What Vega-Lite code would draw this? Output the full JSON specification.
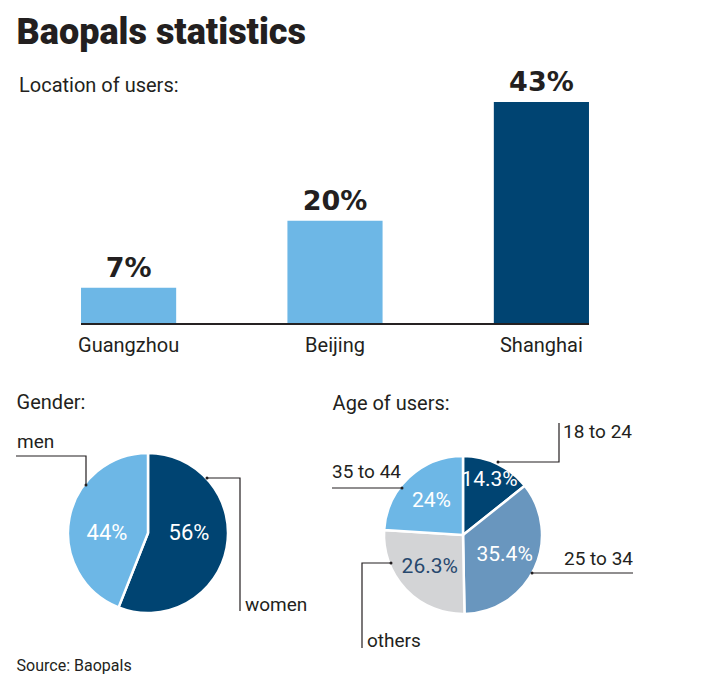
{
  "$schema": "https://vega.github.io/schema/vega-lite/v6.json",
  "background": "white",
  "padding": {"left": 13, "top": 15, "right": 5, "bottom": 5},
  "config": {
    "view": {"stroke": null},
    "font": "Roboto",
    "title": {"color": "#231f20", "font": "Roboto"},
    "text": {"font": "Roboto"}
  },
  "title": {
    "text": "Baopals statistics",
    "anchor": "start",
    "fontSize": 36,
    "fontWeight": 900,
    "offset": 17,
    "dx": 3
  },
  "datasets": {
    "cities": [
      {"city": "Guangzhou", "pct": 7, "label": "7%"},
      {"city": "Beijing", "pct": 20, "label": "20%"},
      {"city": "Shanghai", "pct": 43, "label": "43%"}
    ],
    "gender": [
      {"gender": "women", "share": 56, "label": "56%", "order": 1},
      {"gender": "men", "share": 44, "label": "44%", "order": 2}
    ],
    "age": [
      {"age": "18 to 24", "share": 14.3, "label": "14.3%", "order": 1},
      {"age": "25 to 34", "share": 35.4, "label": "35.4%", "order": 2},
      {"age": "others", "share": 26.3, "label": "26.3%", "order": 3},
      {"age": "35 to 44", "share": 24, "label": "24%", "order": 4}
    ],
    "genderLeaders": [
      {"name": "men", "pt": 0, "x": -0.775, "y": 0.6},
      {"name": "men", "pt": 1, "x": -0.775, "y": 0.9625},
      {"name": "men", "pt": 2, "x": -1.65, "y": 0.9625},
      {"name": "women", "pt": 0, "x": 0.7375, "y": 0.6875},
      {"name": "women", "pt": 1, "x": 1.15, "y": 0.6875},
      {"name": "women", "pt": 2, "x": 1.15, "y": -0.975}
    ],
    "genderNames": [
      {"name": "men", "x": -1.6375, "y": 1.0625},
      {"name": "women", "x": 1.2125, "y": -0.975}
    ],
    "ageLeaders": [
      {"name": "18 to 24", "pt": 0, "x": 0.4375, "y": 0.9125},
      {"name": "18 to 24", "pt": 1, "x": 1.2, "y": 0.9125},
      {"name": "18 to 24", "pt": 2, "x": 1.2, "y": 1.4},
      {"name": "25 to 34", "pt": 0, "x": 0.8625, "y": -0.475},
      {"name": "25 to 34", "pt": 1, "x": 2.125, "y": -0.475},
      {"name": "35 to 44", "pt": 0, "x": -0.7625, "y": 0.5875},
      {"name": "35 to 44", "pt": 1, "x": -1.6375, "y": 0.5875},
      {"name": "others", "pt": 0, "x": -0.9, "y": -0.35},
      {"name": "others", "pt": 1, "x": -1.2625, "y": -0.35},
      {"name": "others", "pt": 2, "x": -1.2625, "y": -1.4125}
    ],
    "ageNames": [
      {"name": "18 to 24", "x": 1.25, "y": 1.2125},
      {"name": "25 to 34", "x": 1.2625, "y": -0.375},
      {"name": "35 to 44", "x": -1.6375, "y": 0.7125},
      {"name": "others", "x": -1.2, "y": -1.4}
    ]
  },
  "bounds": "flush",
  "spacing": 94,
  "resolve": {"scale": {"color": "independent"}},
  "vconcat": [
    {
      "data": {"name": "cities"},
      "width": 638,
      "height": 222,
      "title": {
        "text": "Location of users:",
        "anchor": "start",
        "fontSize": 20,
        "fontWeight": "normal",
        "offset": -27,
        "dx": 3
      },
      "encoding": {
        "x": {
          "field": "city",
          "type": "nominal",
          "sort": ["Guangzhou", "Beijing", "Shanghai"],
          "scale": {"paddingInner": 0.539, "paddingOuter": 0.315},
          "axis": {
            "title": null,
            "domain": false,
            "ticks": false,
            "labelAngle": 0,
            "labelFontSize": 20,
            "labelColor": "#231f20",
            "labelPadding": 11,
            "labelFont": "Roboto"
          }
        },
        "y": {
          "field": "pct",
          "type": "quantitative",
          "scale": {"domain": [0, 43], "nice": false},
          "axis": null
        }
      },
      "layer": [
        {
          "mark": {"type": "bar"},
          "encoding": {
            "color": {
              "field": "city",
              "type": "nominal",
              "scale": {
                "domain": ["Guangzhou", "Beijing", "Shanghai"],
                "range": ["#6db7e6", "#6db7e6", "#004472"]
              },
              "legend": null
            }
          }
        },
        {
          "mark": {
            "type": "text",
            "baseline": "alphabetic",
            "dy": -11,
            "font": "DejaVu Sans",
            "fontSize": 27,
            "fontWeight": "bold",
            "color": "#231f20"
          },
          "encoding": {"text": {"field": "label"}}
        },
        {
          "mark": {"type": "rule", "color": "#231f20", "strokeWidth": 1.5},
          "encoding": {
            "x": {"datum": "Guangzhou", "bandPosition": 0},
            "x2": {"datum": "Shanghai", "bandPosition": 1},
            "y": {"datum": 0}
          }
        }
      ]
    },
    {
      "bounds": "flush",
      "spacing": 92,
      "resolve": {"scale": {"color": "independent", "theta": "independent"}},
      "title": {
        "text": "Source: Baopals",
        "orient": "bottom",
        "anchor": "start",
        "fontSize": 16,
        "fontWeight": "normal",
        "offset": 7,
        "dx": 3
      },
      "hconcat": [
        {
          "width": 224,
          "height": 232,
          "title": {
            "text": "Gender:",
            "anchor": "start",
            "fontSize": 20,
            "fontWeight": "normal",
            "offset": 5,
            "dx": 3
          },
          "resolve": {"scale": {"theta": "independent"}},
          "layer": [
            {
              "data": {"name": "gender"},
              "mark": {"type": "arc", "outerRadius": 80, "stroke": "white", "strokeWidth": 2.5},
              "encoding": {
                "theta": {"field": "share", "type": "quantitative", "stack": true},
                "order": {"field": "order", "type": "quantitative"},
                "color": {
                  "field": "gender",
                  "type": "nominal",
                  "scale": {"domain": ["women", "men"], "range": ["#004472", "#6db7e6"]},
                  "legend": null
                },
                "x": {"datum": 0, "type": "quantitative", "scale": {"domain": [-1.65, 1.15], "nice": false, "zero": false}, "axis": null},
                "y": {"datum": 0, "type": "quantitative", "scale": {"domain": [-1.4625, 1.4375], "nice": false, "zero": false}, "axis": null}
              }
            },
            {
              "data": {"name": "gender"},
              "mark": {"type": "text", "radius": 41, "fontSize": 22, "color": "white"},
              "encoding": {
                "theta": {"field": "share", "type": "quantitative", "stack": true, "scale": {"range": [-0.2, 6.0832]}},
                "order": {"field": "order", "type": "quantitative"},
                "text": {"field": "label"},
                "x": {"datum": 0, "type": "quantitative"},
                "y": {"datum": 0, "type": "quantitative"}
              }
            },
            {
              "data": {"name": "genderLeaders"},
              "mark": {"type": "line", "color": "#231f20", "strokeWidth": 1.2},
              "encoding": {
                "x": {"field": "x", "type": "quantitative"},
                "y": {"field": "y", "type": "quantitative"},
                "detail": {"field": "name"},
                "order": {"field": "pt", "type": "quantitative"}
              }
            },
            {
              "data": {"name": "genderLeaders"},
              "transform": [{"filter": "datum.pt == 0"}],
              "mark": {"type": "circle", "size": 9, "color": "#231f20", "opacity": 1},
              "encoding": {
                "x": {"field": "x", "type": "quantitative"},
                "y": {"field": "y", "type": "quantitative"}
              }
            },
            {
              "data": {"name": "genderNames"},
              "mark": {"type": "text", "align": "left", "baseline": "alphabetic", "fontSize": 19, "color": "#231f20"},
              "encoding": {
                "x": {"field": "x", "type": "quantitative"},
                "y": {"field": "y", "type": "quantitative"},
                "text": {"field": "name"}
              }
            }
          ]
        },
        {
          "width": 301,
          "height": 232,
          "title": {
            "text": "Age of users:",
            "anchor": "start",
            "fontSize": 20,
            "fontWeight": "normal",
            "offset": 4,
            "dx": 3
          },
          "layer": [
            {
              "data": {"name": "age"},
              "mark": {"type": "arc", "outerRadius": 79, "stroke": "white", "strokeWidth": 2.5},
              "encoding": {
                "theta": {"field": "share", "type": "quantitative", "stack": true},
                "order": {"field": "order", "type": "quantitative"},
                "color": {
                  "field": "age",
                  "type": "nominal",
                  "scale": {
                    "domain": ["18 to 24", "25 to 34", "others", "35 to 44"],
                    "range": ["#004472", "#6996be", "#d3d4d6", "#6db7e6"]
                  },
                  "legend": null
                },
                "x": {"datum": 0, "type": "quantitative", "scale": {"domain": [-1.6375, 2.125], "nice": false, "zero": false}, "axis": null},
                "y": {"datum": 0, "type": "quantitative", "scale": {"domain": [-1.4375, 1.4625], "nice": false, "zero": false}, "axis": null}
              }
            },
            {
              "data": {"name": "age"},
              "mark": {"type": "text", "radius": 61, "fontSize": 21},
              "encoding": {
                "theta": {"field": "share", "type": "quantitative", "stack": true},
                "order": {"field": "order", "type": "quantitative"},
                "text": {"field": "label"},
                "color": {"value": "white"},
                "opacity": {"condition": {"test": "datum.age === '18 to 24'", "value": 1}, "value": 0},
                "x": {"datum": 0, "type": "quantitative"},
                "y": {"datum": 0, "type": "quantitative"}
              }
            },
            {
              "data": {"name": "age"},
              "mark": {"type": "text", "radius": 46, "fontSize": 21},
              "encoding": {
                "theta": {"field": "share", "type": "quantitative", "stack": true},
                "order": {"field": "order", "type": "quantitative"},
                "text": {"field": "label"},
                "color": {"condition": {"test": "datum.age === 'others'", "value": "#27486e"}, "value": "white"},
                "opacity": {"condition": {"test": "datum.age === '18 to 24'", "value": 0}, "value": 1},
                "x": {"datum": 0, "type": "quantitative"},
                "y": {"datum": 0, "type": "quantitative"}
              }
            },
            {
              "data": {"name": "ageLeaders"},
              "mark": {"type": "line", "color": "#231f20", "strokeWidth": 1.2},
              "encoding": {
                "x": {"field": "x", "type": "quantitative"},
                "y": {"field": "y", "type": "quantitative"},
                "detail": {"field": "name"},
                "order": {"field": "pt", "type": "quantitative"}
              }
            },
            {
              "data": {"name": "ageLeaders"},
              "transform": [{"filter": "datum.pt == 0"}],
              "mark": {"type": "circle", "size": 9, "color": "#231f20", "opacity": 1},
              "encoding": {
                "x": {"field": "x", "type": "quantitative"},
                "y": {"field": "y", "type": "quantitative"}
              }
            },
            {
              "data": {"name": "ageNames"},
              "mark": {"type": "text", "align": "left", "baseline": "alphabetic", "fontSize": 19, "color": "#231f20"},
              "encoding": {
                "x": {"field": "x", "type": "quantitative"},
                "y": {"field": "y", "type": "quantitative"},
                "text": {"field": "name"}
              }
            }
          ]
        }
      ]
    }
  ]
}
